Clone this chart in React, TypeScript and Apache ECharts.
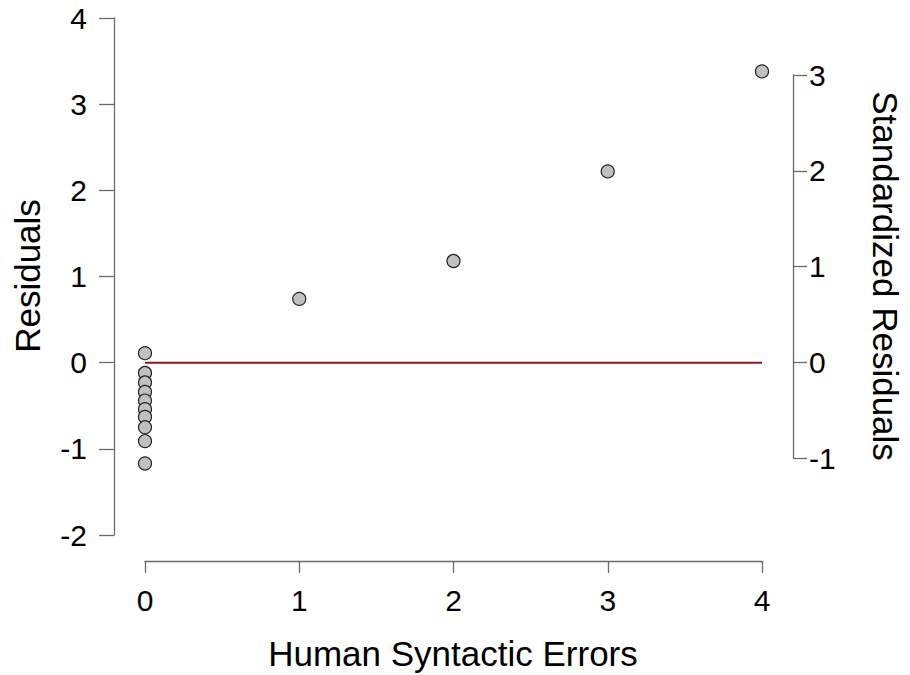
import React, { useEffect, useRef } from "react";
import * as echarts from "echarts";

const xTicks = [0, 1, 2, 3, 4];
const humanErrors = [0, 0, 0, 0, 0, 0, 0, 0, 0, 0, 1, 2, 3, 4];
const residuals = [0.11, -0.12, -0.23, -0.34, -0.44, -0.54, -0.63, -0.75, -0.91, -1.17, 0.74, 1.18, 2.22, 3.38];
const zeroLine = [
  [0, 0],
  [4, 0],
];

const FONT = '"Liberation Sans", Arial, Helvetica, sans-serif';
const AXIS_COLOR = "#6a6a6a";
const TICK_FONT = 30;

export default function App() {
  const ref = useRef<HTMLDivElement>(null);

  useEffect(() => {
    if (!ref.current) return;
    const chart = echarts.init(ref.current, undefined, { renderer: "svg" });
    const points = humanErrors.map((x, i) => [x, residuals[i]]);
    const axisLine = { show: true, onZero: false, lineStyle: { color: AXIS_COLOR, width: 1.3 } };
    const tickStyle = { color: AXIS_COLOR, width: 1.3 };
    chart.setOption({
      animation: false,
      backgroundColor: "#ffffff",
      textStyle: { fontFamily: FONT },
      grid: [
        { left: 145, top: 18, width: 617, height: 517 },
        { left: 145, top: 75, width: 617, height: 383 },
      ],
      xAxis: [
        {
          type: "value",
          gridIndex: 0,
          position: "bottom",
          min: 0,
          max: 4,
          interval: 1,
          offset: 26,
          axisLine,
          axisTick: { show: true, length: 12, inside: false, lineStyle: tickStyle },
          axisLabel: {
            color: "#000",
            fontSize: TICK_FONT,
            fontFamily: FONT,
            margin: 24,
            formatter: (v: number) => (xTicks.includes(v) ? String(v) : ""),
          },
          splitLine: { show: false },
        },
        { type: "value", gridIndex: 1, min: 0, max: 4, show: false },
      ],
      yAxis: [
        {
          type: "value",
          gridIndex: 0,
          position: "left",
          min: -2,
          max: 4,
          interval: 1,
          offset: 31,
          axisLine,
          axisTick: { show: true, length: 15, inside: false, lineStyle: tickStyle },
          axisLabel: { color: "#000", fontSize: TICK_FONT, fontFamily: FONT, margin: 27 },
          splitLine: { show: false },
        },
        {
          type: "value",
          gridIndex: 1,
          position: "right",
          min: -1,
          max: 3,
          interval: 1,
          offset: 31,
          axisLine,
          axisTick: { show: true, length: 14, inside: false, lineStyle: tickStyle },
          axisLabel: { color: "#000", fontSize: TICK_FONT, fontFamily: FONT, margin: 16 },
          splitLine: { show: false },
        },
      ],
      graphic: [
        {
          type: "text",
          x: 27,
          y: 276,
          rotation: Math.PI / 2,
          style: {
            text: "Residuals",
            fontSize: 35,
            fontFamily: FONT,
            fill: "#000",
            align: "center",
            verticalAlign: "middle",
          },
        },
        {
          type: "text",
          x: 885,
          y: 276,
          rotation: -Math.PI / 2,
          style: {
            text: "Standardized Residuals",
            fontSize: 35,
            fontFamily: FONT,
            fill: "#000",
            align: "center",
            verticalAlign: "middle",
          },
        },
        {
          type: "text",
          x: 453,
          y: 653,
          style: {
            text: "Human Syntactic Errors",
            fontSize: 35,
            fontFamily: FONT,
            fill: "#000",
            align: "center",
            verticalAlign: "middle",
          },
        },
      ],
      series: [
        {
          type: "line",
          xAxisIndex: 0,
          yAxisIndex: 0,
          data: zeroLine,
          symbol: "none",
          lineStyle: { color: "#8b1a1a", width: 2 },
          z: 1,
          silent: true,
        },
        {
          type: "scatter",
          xAxisIndex: 0,
          yAxisIndex: 0,
          data: points,
          symbol: "circle",
          symbolSize: 13,
          clip: false,
          itemStyle: { color: "#c0c0c0", borderColor: "#222", borderWidth: 1.2, opacity: 1 },
          z: 2,
        },
      ],
    });
    return () => chart.dispose();
  }, []);

  return (
    <div
      ref={ref}
      style={{ position: "fixed", left: 0, top: 0, width: 910, height: 675 }}
    />
  );
}
